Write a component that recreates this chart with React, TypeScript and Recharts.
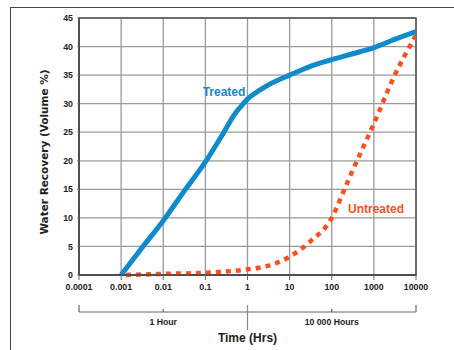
import React from 'react';
import {
  LineChart, Line, XAxis, YAxis, CartesianGrid, ReferenceArea,
} from 'recharts';

const xTicks = [0.0001, 0.001, 0.01, 0.1, 1, 10, 100, 1000, 10000];
const yTicks = [0, 5, 10, 15, 20, 25, 30, 35, 40, 45];
const xTickLabels = ['0.0001', '0.001', '0.01', '0.1', '1', '10', '100', '1000', '10000'];

const treatedTime = [0.001, 0.003, 0.01, 0.03, 0.1, 0.25, 0.5, 0.8, 1, 2, 3, 10, 30, 100, 300, 1000, 3000, 10000];
const treatedRecovery = [0, 4.6, 9.5, 14.5, 19.8, 24.5, 28.2, 30, 30.8, 32.4, 33.2, 35, 36.5, 37.7, 38.7, 39.8, 41.2, 42.6];

const untreatedTime = [0.0013, 0.01, 0.1, 1, 3, 10, 30, 100, 200, 300, 1000, 3000, 10000];
const untreatedRecovery = [0, 0.2, 0.4, 1.0, 1.6, 3.2, 5.8, 10, 15, 18, 26.5, 34.7, 42];

const bracketTicks = [0.0001, 0.01, 1, 100, 10000];
const bracketLabels: Record<string, string> = { '0.01': '1 Hour', '100': '10 000 Hours' };

const treated = treatedTime.map((t, i) => ({ t, v: treatedRecovery[i] }));
const untreated = untreatedTime.map((t, i) => ({ t, v: untreatedRecovery[i] }));

const FONT = '"Liberation Sans", Arial, sans-serif';
const BLUE = '#0f8bcc';
const ORANGE = '#ff4f1f';

const BracketTick = (props: any) => {
  const { x, y, payload } = props;
  const v = payload.value;
  const key = String(v);
  const els: React.ReactNode[] = [];
  if (v === 0.0001 || v === 10000) {
    els.push(<line key="l" x1={x} x2={x} y1={y - 7} y2={y} stroke="#666" strokeWidth={1.2} />);
  } else if (v === 1) {
    els.push(<line key="l" x1={x} x2={x} y1={y - 7} y2={y + 18} stroke="#888" strokeWidth={1.2} />);
  } else {
    els.push(<line key="l" x1={x} x2={x} y1={y - 3} y2={y} stroke="#666" strokeWidth={1.2} />);
  }
  if (bracketLabels[key]) {
    els.push(
      <text key="t" x={x} y={y + 13} textAnchor="middle" fontSize={8.7} fontWeight="bold"
        fontFamily={FONT} fill="#222">{bracketLabels[key]}</text>
    );
  }
  return <g>{els}</g>;
};

const tickStyle = { fontSize: 8.8, fontWeight: 'bold', fontFamily: FONT, fill: '#222' };

export default function App() {
  return (
    <div style={{ position: 'absolute', left: 0, top: 0, width: 454, height: 350 }}>
      <div style={{
        position: 'absolute', left: 10, top: 7, width: 460, height: 360,
        borderTop: '1.5px solid #444', borderLeft: '1.5px solid #444', boxSizing: 'border-box',
      }} />
      <LineChart
        width={454}
        height={350}
        margin={{ top: 18, right: 38, bottom: 8, left: 39 }}
        style={{ position: 'absolute', left: 0, top: 0 }}
      >
        <CartesianGrid stroke="#9a9a9a" strokeWidth={1.3} />
        <XAxis
          dataKey="t"
          type="number"
          scale="log"
          domain={[0.0001, 10000]}
          ticks={xTicks}
          allowDataOverflow
          height={37}
          tickSize={5}
          tickMargin={4}
          interval={0}
          tickFormatter={(v: number) => xTickLabels[xTicks.indexOf(v)] ?? String(v)}
          tick={tickStyle}
          axisLine={{ stroke: '#444', strokeWidth: 1.5 }}
          tickLine={{ stroke: '#666' }}
        />
        <XAxis
          xAxisId="bracket"
          dataKey="t"
          type="number"
          scale="log"
          domain={[0.0001, 10000]}
          ticks={bracketTicks}
          allowDataOverflow
          height={30}
          tickSize={0}
          tickMargin={0}
          interval={0}
          tick={<BracketTick />}
          tickLine={false}
          axisLine={{ stroke: '#666', strokeWidth: 1.2 }}
          label={{
            value: 'Time (Hrs)', position: 'insideBottom', offset: 0,
            style: { fontSize: 12, fontWeight: 'bold', fontFamily: FONT, fill: '#222' },
          }}
        />
        <YAxis
          type="number"
          domain={[0, 45]}
          ticks={yTicks}
          width={40}
          interval={0}
          tickSize={2}
          tickMargin={4}
          tick={tickStyle}
          axisLine={{ stroke: '#444', strokeWidth: 1.5 }}
          tickLine={{ stroke: '#888' }}
        />
        <ReferenceArea x1={0.0001} x2={10000} y1={0} y2={45} fill="none" stroke="#555" strokeWidth={1.5} />
        <Line
          data={untreated}
          dataKey="v"
          type="monotone"
          stroke={ORANGE}
          strokeWidth={4.5}
          strokeDasharray="5 5"
          dot={false}
          isAnimationActive={false}
        />
        <Line
          data={treated}
          dataKey="v"
          type="monotone"
          stroke={BLUE}
          strokeWidth={5}
          dot={false}
          isAnimationActive={false}
        />
        <text x={44} y={152} transform="rotate(-90 44 152)" textAnchor="middle" dominantBaseline="central"
          fontSize={10.5} fontWeight="bold" fontFamily='"DejaVu Sans", sans-serif' fill="#222">Water Recovery (Volume %)</text>
        <text x={224} y={96} textAnchor="middle" fontSize={12} fontWeight="bold" fontFamily={FONT} fill={BLUE}>Treated</text>
        <text x={376} y={213} textAnchor="middle" fontSize={12} fontWeight="bold" fontFamily={FONT} fill={ORANGE}>Untreated</text>
      </LineChart>
    </div>
  );
}
